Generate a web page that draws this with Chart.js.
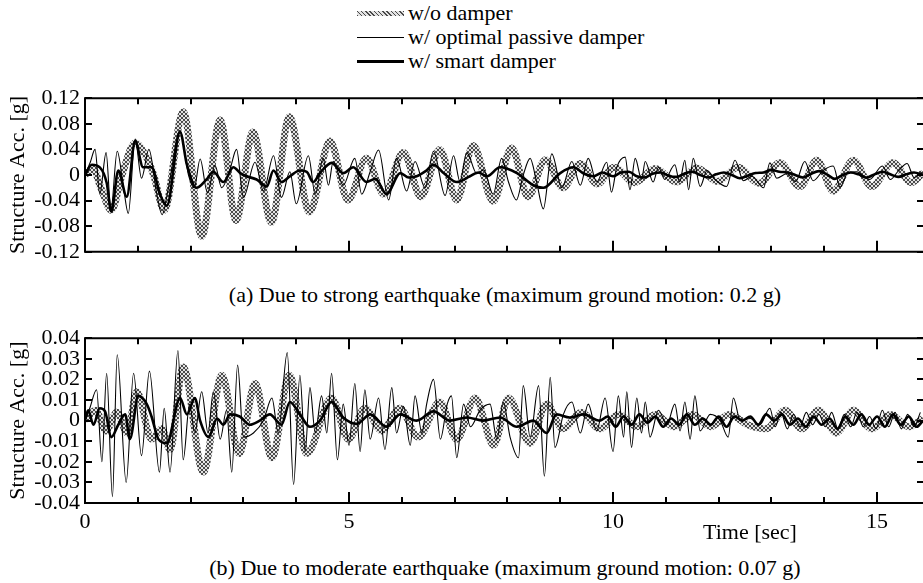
<!DOCTYPE html>
<html><head><meta charset="utf-8">
<script src="https://cdn.jsdelivr.net/npm/chart.js@4.4.1/dist/chart.umd.min.js"></script>
<style>
html,body{margin:0;padding:0;background:#fff;}
body{width:923px;height:583px;position:relative;overflow:hidden;font-family:"Liberation Serif","Times New Roman",serif;color:#000;}
canvas{position:absolute;left:0;}
#c1{top:80px;}
#c2{top:320px;}
.txt{position:absolute;font-size:22px;line-height:24px;white-space:nowrap;}
.cap{left:0;width:1010px;text-align:center;}
.lrow{position:absolute;left:357px;height:24px;display:flex;align-items:center;font-size:22px;white-space:nowrap;}
.smp{width:47px;margin-right:4px;}
</style></head>
<body>
<div id="legend"></div>
<canvas id="c1" width="923" height="190"></canvas>
<div class="txt cap" id="capA" style="top:283px"></div>
<canvas id="c2" width="923" height="230"></canvas>
<div class="txt" id="xTitle" style="left:703px;top:520px"></div>
<div class="txt cap" id="capB" style="top:556px"></div>
<script>
// ---------- data (time [s], acceleration [g]) ----------
const seriesNames = ['w/o damper', 'w/ optimal passive damper', 'w/ smart damper'];
const captions = ['(a) Due to strong earthquake (maximum ground motion: 0.2 g)',
                  '(b) Due to moderate earthquake (maximum ground motion: 0.07 g)'];
const yAxisTitle = 'Structure Acc. [g]';
const xAxisTitle = 'Time [sec]';
const xTickValues = [0,1,2,3,4,5,6,7,8,9,10,11,12,13,14,15];
const xTickLabels = ['0','','','','','5','','','','','10','','','','','15'];
const yTicksTop = [0.12,0.08,0.04,0,-0.04,-0.08,-0.12];
const yTickLabelsTop = ['0.12','0.08','0.04','0','-0.04','-0.08','-0.12'];
const yTicksBottom = [0.04,0.03,0.02,0.01,0,-0.01,-0.02,-0.03,-0.04];
const yTickLabelsBottom = ['0.04','0.03','0.02','0.01','0','-0.01','-0.02','-0.03','-0.04'];

const topNoDamper = [[0,0],[0.15,0.01],[0.3,-0.02],[0.5,-0.055],[0.7,0],[0.95,0.05],[1.15,0.03],[1.3,0],[1.5,-0.055],[1.86,0.099],[2.21,-0.096],[2.56,0.086],[2.86,-0.071],[3.18,0.067],[3.53,-0.074],[3.87,0.091],[4.25,-0.058],[4.64,0.053],[4.98,-0.039],[5.33,0.026],[5.66,-0.03],[6.03,0.035],[6.36,-0.034],[6.72,0.04],[7.04,-0.039],[7.35,0.046],[7.73,-0.041],[8.08,0.042],[8.39,-0.034],[8.72,0.024],[9.05,-0.02],[9.38,0.018],[9.7,-0.014],[10.02,0.012],[10.41,-0.012],[10.8,0.01],[11.2,-0.011],[11.59,0.011],[11.98,-0.01],[12.37,0.012],[12.77,-0.013],[13.16,0.019],[13.54,-0.018],[13.86,0.023],[14.17,-0.025],[14.55,0.023],[14.9,-0.018],[15.3,0.019],[15.65,-0.012],[15.87,0.004]];
const topPassive = [[0,0],[0.1,0.02],[0.19,0.04],[0.28,-0.03],[0.4,0.035],[0.49,-0.055],[0.61,0.037],[0.73,-0.02],[0.82,-0.06],[0.95,0.056],[1.07,-0.005],[1.21,0.04],[1.36,-0.03],[1.46,-0.062],[1.58,-0.02],[1.8,0.07],[1.96,0],[2.07,-0.02],[2.18,0.025],[2.32,-0.028],[2.46,0.015],[2.59,-0.02],[2.75,0.01],[2.87,0.04],[3.0,-0.035],[3.22,0.02],[3.38,-0.025],[3.57,0.03],[3.72,-0.035],[3.88,0.005],[4.0,-0.045],[4.23,0.03],[4.36,-0.03],[4.51,0.026],[4.61,-0.016],[4.7,0.021],[4.89,-0.016],[5.11,0.026],[5.24,-0.03],[5.4,0.005],[5.56,0.039],[5.75,-0.039],[5.9,0.026],[6.09,-0.025],[6.25,0.021],[6.44,-0.02],[6.6,0.037],[6.82,-0.032],[6.98,0.03],[7.1,-0.01],[7.23,0.035],[7.42,0.002],[7.55,0.008],[7.73,-0.03],[7.89,0.026],[8.02,-0.011],[8.17,-0.039],[8.3,0],[8.43,0.026],[8.55,-0.01],[8.68,-0.053],[8.84,0.033],[9.03,-0.02],[9.22,0.021],[9.38,-0.016],[9.53,0.026],[9.69,-0.011],[9.88,0.02],[9.97,-0.027],[10.07,0.012],[10.23,0.028],[10.32,-0.023],[10.42,0.026],[10.54,-0.007],[10.61,0.021],[10.76,-0.011],[10.86,0.012],[10.98,-0.007],[11.17,0.016],[11.26,-0.011],[11.36,0.023],[11.43,-0.023],[11.52,0.026],[11.65,-0.018],[11.78,0.007],[11.93,-0.007],[12.15,-0.018],[12.31,0.023],[12.47,-0.009],[12.63,-0.002],[12.85,-0.02],[12.97,0.019],[13.1,-0.005],[13.29,0.002],[13.46,-0.01],[13.63,0.021],[13.79,-0.009],[13.98,0.007],[14.17,0.014],[14.3,-0.019],[14.45,0.004],[14.61,0.005],[14.86,-0.007],[15.1,0.014],[15.25,-0.007],[15.4,0.006],[15.57,0.018],[15.7,-0.004],[15.87,0.005]];
const topSmart = [[0,0],[0.13,0.016],[0.28,0.012],[0.41,-0.012],[0.5,-0.057],[0.63,0.007],[0.79,-0.034],[0.95,0.053],[1.1,0.012],[1.26,0.012],[1.42,-0.03],[1.55,-0.048],[1.8,0.067],[1.93,0.016],[2.11,-0.02],[2.3,-0.007],[2.43,0.005],[2.62,-0.011],[2.81,0.012],[2.94,0.003],[3.06,-0.002],[3.25,-0.007],[3.44,-0.018],[3.57,0.007],[3.72,-0.011],[3.88,-0.002],[4.07,0.007],[4.2,0.005],[4.32,-0.011],[4.45,0.003],[4.67,0.019],[4.89,0.003],[5.08,0.012],[5.33,-0.011],[5.5,-0.006],[5.71,-0.03],[5.97,0.003],[6.13,-0.004],[6.28,-0.002],[6.45,0.006],[6.6,0.016],[6.79,0.003],[7.04,-0.011],[7.29,-0.002],[7.45,0.004],[7.61,-0.002],[7.86,0.012],[8.18,0.003],[8.49,-0.016],[8.68,-0.02],[9.0,0.003],[9.25,0.012],[9.45,0.002],[9.63,-0.002],[9.8,0.004],[10.0,-0.002],[10.15,0.004],[10.3,0.005],[10.45,-0.002],[10.6,-0.004],[10.75,0.002],[10.9,0.004],[11.05,-0.001],[11.2,-0.003],[11.35,0.002],[11.5,0.005],[11.65,0],[11.8,-0.004],[11.95,0.001],[12.1,0.004],[12.25,0],[12.4,-0.005],[12.55,-0.001],[12.7,0.003],[12.85,0.004],[13.0,0.008],[13.15,0.005],[13.3,0.004],[13.45,0],[13.6,-0.004],[13.75,0.002],[13.9,0.006],[14.05,0.001],[14.2,-0.006],[14.35,0],[14.5,0.004],[14.65,0.001],[14.8,-0.004],[14.95,0.001],[15.1,0.005],[15.25,0.001],[15.4,-0.003],[15.55,0.001],[15.7,0.004],[15.87,0]];

const bottomNoDamper = [[0,0],[0.2,0.005],[0.4,-0.005],[0.6,0.004],[0.8,-0.006],[0.98,0.014],[1.26,-0.009],[1.45,-0.004],[1.61,-0.014],[1.86,0.026],[2.24,-0.025],[2.59,0.022],[2.92,-0.016],[3.22,0.018],[3.54,-0.018],[3.87,0.022],[4.2,-0.016],[4.67,0.011],[4.99,-0.009],[5.3,0.006],[5.62,-0.005],[5.96,0.006],[6.31,-0.008],[6.72,0.009],[7.04,-0.009],[7.39,0.011],[7.74,-0.012],[8.02,0.011],[8.43,-0.011],[8.74,0.008],[9.05,-0.004],[9.4,0.004],[9.75,-0.004],[10.1,0.003],[10.45,-0.003],[10.8,0.003],[11.15,-0.003],[11.5,0.003],[11.85,-0.003],[12.2,0.003],[12.55,-0.002],[12.9,-0.004],[13.26,0.005],[13.57,-0.004],[13.89,0.005],[14.23,-0.006],[14.55,0.005],[14.9,-0.004],[15.25,0.003],[15.6,-0.003],[15.87,0.001]];
const bottomPassive = [[0,0],[0.09,0.006],[0.22,0.015],[0.32,-0.02],[0.41,0.023],[0.52,-0.037],[0.61,0.032],[0.78,-0.03],[0.92,0.023],[1.07,-0.017],[1.22,0.024],[1.41,-0.025],[1.5,0.006],[1.61,-0.025],[1.76,0.034],[1.86,-0.019],[1.98,0.008],[2.08,-0.006],[2.21,0.014],[2.33,-0.006],[2.43,0.014],[2.56,-0.009],[2.68,0.005],[2.78,-0.025],[2.89,0.027],[3.0,-0.008],[3.19,-0.006],[3.38,0],[3.54,0.011],[3.66,-0.006],[3.83,0.033],[3.95,-0.031],[4.07,0.022],[4.17,-0.015],[4.26,0.016],[4.36,-0.006],[4.48,0.012],[4.58,-0.006],[4.67,0.023],[4.78,-0.019],[4.89,0.008],[5.0,-0.012],[5.11,0.018],[5.21,-0.015],[5.3,0.015],[5.4,-0.009],[5.56,0.011],[5.68,-0.014],[5.81,0.016],[5.9,-0.006],[6.03,0.007],[6.16,-0.012],[6.25,0.012],[6.38,-0.006],[6.47,0.008],[6.6,0.02],[6.73,-0.009],[6.86,0.008],[6.94,0.012],[7.04,-0.018],[7.17,0.008],[7.3,-0.003],[7.48,0.005],[7.67,0.008],[7.8,-0.009],[7.92,0.009],[8.05,-0.008],[8.21,-0.018],[8.3,0.017],[8.43,-0.008],[8.59,0.017],[8.7,-0.027],[8.81,0.021],[8.9,-0.013],[9.06,0.003],[9.22,0.009],[9.38,-0.006],[9.53,0.008],[9.69,-0.005],[9.85,0.011],[10.0,-0.015],[10.1,0.012],[10.2,-0.008],[10.26,0.014],[10.35,-0.013],[10.45,0.011],[10.54,-0.006],[10.61,0.009],[10.7,-0.008],[10.86,0.005],[11.02,-0.002],[11.17,0.008],[11.27,-0.005],[11.36,0.009],[11.46,-0.009],[11.55,0.012],[11.65,-0.005],[11.84,0.003],[12.03,0],[12.18,-0.008],[12.28,0.011],[12.41,0],[12.6,0.001],[12.78,-0.002],[12.97,0.006],[13.07,-0.003],[13.18,0.004],[13.3,-0.004],[13.42,0.003],[13.54,-0.003],[13.66,0.004],[13.78,-0.002],[13.9,0.003],[14.02,-0.003],[14.14,0.004],[14.26,-0.004],[14.38,0.003],[14.5,-0.003],[14.62,0.004],[14.74,-0.003],[14.86,0.002],[14.98,-0.004],[15.1,0.005],[15.22,-0.003],[15.34,0.004],[15.46,-0.004],[15.58,0.003],[15.7,-0.003],[15.82,0.004]];
const bottomSmart = [[0,0],[0.06,0.005],[0.16,-0.002],[0.28,0.006],[0.38,0.0045],[0.5,-0.008],[0.63,-0.002],[0.76,0.003],[0.85,-0.009],[1.01,0.012],[1.17,0.008],[1.26,0.002],[1.39,-0.009],[1.55,-0.011],[1.8,0.011],[1.93,0.003],[2.08,0.011],[2.18,0],[2.34,-0.008],[2.5,0.001],[2.62,-0.002],[2.75,0.003],[2.93,0.002],[3.12,-0.002],[3.31,0],[3.5,0.003],[3.72,-0.002],[3.88,0.009],[4.07,0.003],[4.26,-0.003],[4.45,0],[4.67,0.009],[4.89,0.0015],[5.15,-0.0016],[5.4,0.003],[5.71,-0.003],[5.97,0.003],[6.28,0],[6.6,0.0045],[6.91,0],[7.23,0.0015],[7.54,0],[7.86,0.0015],[8.18,-0.003],[8.49,0],[8.74,-0.006],[8.93,0.003],[9.18,0.0015],[9.44,0.003],[9.75,0],[9.9,0.002],[10.05,-0.003],[10.2,0.002],[10.35,-0.002],[10.5,0.003],[10.65,-0.001],[10.8,0.002],[10.95,-0.003],[11.1,0.001],[11.25,-0.002],[11.4,0.003],[11.55,-0.002],[11.7,0.001],[11.85,-0.002],[12.0,0.002],[12.15,-0.003],[12.3,0.002],[12.45,0],[12.6,0.002],[12.75,-0.002],[12.9,0.003],[13.05,0],[13.2,0.003],[13.35,-0.002],[13.5,0.001],[13.65,-0.003],[13.8,0.002],[13.95,-0.002],[14.1,0.001],[14.25,-0.004],[14.4,0.002],[14.55,-0.002],[14.7,0.003],[14.85,-0.002],[15.0,0.002],[15.15,-0.003],[15.3,0.003],[15.45,-0.002],[15.6,0.002],[15.75,-0.003],[15.87,0]];

const X_MIN = 0, X_MAX = 15.87;
// ---------- styling ----------
const FONT = '"Liberation Serif", "Times New Roman", serif';
function hatchPattern(ctx) {
  const c = document.createElement('canvas'); c.width = 4; c.height = 4;
  const g = c.getContext('2d');
  g.fillStyle = '#e2e2e2'; g.fillRect(0, 0, 4, 4);
  g.fillStyle = '#4a4a4a';
  for (let i = 0; i < 4; i++) { g.fillRect(i, i, 1, 1); g.fillRect(3 - i, i, 1, 1); }
  return ctx.createPattern(c, 'repeat');
}

// legend (HTML)
const legendRows = [13, 37, 61];
const legendStyles = [
  'height:5px;background:repeating-linear-gradient(45deg,#4a4a4a 0 1px,#e2e2e2 1px 3px)',
  'height:1px;background:#000',
  'height:3px;background:#000'
];
const leg = document.getElementById('legend');
seriesNames.forEach((n, i) => {
  const r = document.createElement('div');
  r.className = 'lrow'; r.style.top = (legendRows[i] - 12) + 'px';
  r.innerHTML = '<div class="smp" style="' + legendStyles[i] + '"></div><span>' + n + '</span>';
  leg.appendChild(r);
});
document.getElementById('capA').textContent = captions[0];
document.getElementById('capB').textContent = captions[1];
document.getElementById('xTitle').textContent = xAxisTitle;

const framePlugin = {
  id: 'frame',
  afterDatasetsDraw(chart) {
    const {ctx, chartArea: a, scales: {x, y}} = chart;
    ctx.save();
    ctx.strokeStyle = '#000';
    ctx.lineWidth = 2;
    ctx.beginPath();
    ctx.moveTo(a.left, a.top); ctx.lineTo(a.right, a.top);
    ctx.moveTo(a.left, a.top - 1); ctx.lineTo(a.left, a.bottom + 1);
    ctx.moveTo(a.left, a.bottom); ctx.lineTo(a.right, a.bottom);
    y.ticks.forEach(t => {
      const py = Math.round(y.getPixelForValue(t.value));
      ctx.moveTo(a.left, py); ctx.lineTo(a.left + 7, py);
      ctx.moveTo(a.right - 6, py); ctx.lineTo(a.right, py);
    });
    xTickValues.forEach(v => {
      const px = Math.round(x.getPixelForValue(v));
      const len = (v % 5 === 0) ? 11 : 6;
      ctx.moveTo(px, a.bottom); ctx.lineTo(px, a.bottom - len);
      ctx.moveTo(px, a.top); ctx.lineTo(px, a.top + len);
    });
    ctx.stroke();
    ctx.restore();
  }
};

function makeChart(id, padTop, xHeight, showXLabels, gray, passive, smart, yMin, yMax, yVals, yLabels) {
  const cv = document.getElementById(id);
  const ctx = cv.getContext('2d');
  const toXY = arr => arr.map(p => ({x: p[0], y: p[1]}));
  return new Chart(ctx, {
    type: 'line',
    data: {
      datasets: [
        {label: seriesNames[2], data: toXY(smart), borderColor: '#000', borderWidth: 2.6, order: 0},
        {label: seriesNames[1], data: toXY(passive), borderColor: '#000', borderWidth: 1.1, order: 1},
        {label: seriesNames[0], data: toXY(gray), borderColor: hatchPattern(ctx), borderWidth: 7, order: 2}
      ]
    },
    options: {
      responsive: false, animation: false, devicePixelRatio: 1,
      layout: {padding: {top: padTop, left: 0, right: 0, bottom: 0}},
      elements: {point: {radius: 0}, line: {cubicInterpolationMode: 'monotone', fill: false, borderJoinStyle: 'round'}},
      plugins: {legend: {display: false}, tooltip: {enabled: false}},
      scales: {
        x: {
          type: 'linear', min: X_MIN, max: X_MAX,
          grid: {display: false, drawTicks: false}, border: {display: false},
          afterBuildTicks: s => { s.ticks = xTickValues.map(v => ({value: v})); },
          afterFit: s => { s.height = xHeight; },
          ticks: {display: showXLabels, autoSkip: false, maxRotation: 0, padding: 6, color: '#000',
                  font: {family: FONT, size: 22},
                  callback: (v, i) => xTickLabels[i]}
        },
        y: {
          type: 'linear', min: yMin, max: yMax,
          grid: {display: false, drawTicks: false}, border: {display: false},
          afterBuildTicks: s => { s.ticks = yVals.map(v => ({value: v})); },
          afterFit: s => { s.width = 85; },
          title: {display: true, text: yAxisTitle, color: '#000', font: {family: FONT, size: 22}, padding: {top: 5, bottom: 0}},
          ticks: {autoSkip: false, padding: 5, color: '#000', font: {family: FONT, size: 22},
                  callback: (v, i) => yLabels[i]}
        }
      }
    },
    plugins: [framePlugin]
  });
}

makeChart('c1', 7, 10, false, topNoDamper, topPassive, topSmart, -0.12, 0.12, yTicksTop, yTickLabelsTop);
makeChart('c2', 10, 47, true, bottomNoDamper, bottomPassive, bottomSmart, -0.04, 0.04, yTicksBottom, yTickLabelsBottom);
</script>
</body></html>
